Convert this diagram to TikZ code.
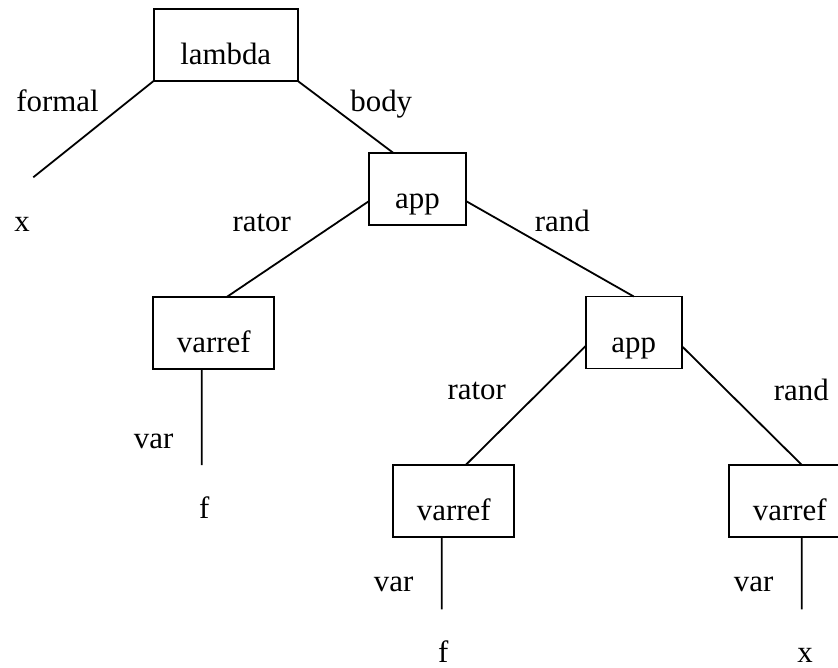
\documentclass[tikz,border=0pt]{standalone}
\usepackage{fontspec}
\setmainfont{Liberation Serif}
\begin{document}
\begin{tikzpicture}[x=1bp,y=-1bp,
  every node/.style={font=\fontsize{31}{37}\selectfont},
  box/.style={draw,line width=1.8bp,minimum height=72bp,text height=39.6bp,text depth=0pt,inner sep=0pt,outer sep=0pt},
  lbl/.style={anchor=base,inner sep=0pt,outer sep=0pt},
  link/.style={line width=1.8bp}]
\useasboundingbox (0,0) rectangle (838,668);
% boxes
\node[box,minimum width=144bp] (lambda) at (225.7,44.9) {lambda};
\node[box,minimum width=96.4bp] (app1) at (417.5,188.9) {app};
\node[box,minimum width=120.7bp] (varref1) at (213.7,333) {varref};
\node[box,minimum width=96bp] (app2) at (633.7,332.5) {app};
\node[box,minimum width=121bp] (varref2) at (453.8,500.9) {varref};
\node[box,minimum width=121bp] (varref3) at (789.8,500.9) {varref};
% free ends
\coordinate (formalend) at (33.3,177.3);
\coordinate (v1end) at (201.7,465);
\coordinate (v2end) at (441.7,609.3);
\coordinate (v3end) at (801.7,609.3);
% connectors
\draw[link] (lambda.south west) -- (formalend);
\draw[link] (lambda.south east) -- ([xshift=-24.2bp]app1.north);
\draw[link] ([yshift=-12bp]app1.west) -- ([xshift=13bp]varref1.north);
\draw[link] ([yshift=-12bp]app1.east) -- (app2.north);
\draw[link] ([yshift=-13.5bp]app2.west) -- ([xshift=12bp]varref2.north);
\draw[link] ([yshift=-13.5bp]app2.east) -- ([xshift=12bp]varref3.north);
\draw[link] ([xshift=-12bp]varref1.south) -- (v1end);
\draw[link] ([xshift=-12bp]varref2.south) -- (v2end);
\draw[link] ([xshift=12bp]varref3.south) -- (v3end);
% labels
\node[lbl] (lformal) at (57.5,111.7) {formal};
\node[lbl] (lbody) at (381.3,111.7) {body};
\node[lbl] (lx1) at (22.2,231.7) {x};
\node[lbl] (lrator1) at (261.7,231.7) {rator};
\node[lbl] (lrand1) at (562.3,231.7) {rand};
\node[lbl] (lrator2) at (476.7,399.5) {rator};
\node[lbl] (lrand2) at (801.3,400) {rand};
\node[lbl] (lvar1) at (153.7,448.3) {var};
\node[lbl] (lf1) at (204.2,518.3) {f};
\node[lbl] (lvar2) at (393.7,591.7) {var};
\node[lbl] (lf2) at (443.3,662.6) {f};
\node[lbl] (lvar3) at (753.7,591.7) {var};
\node[lbl] (lx2) at (805,662.6) {x};
\end{tikzpicture}
\end{document}
